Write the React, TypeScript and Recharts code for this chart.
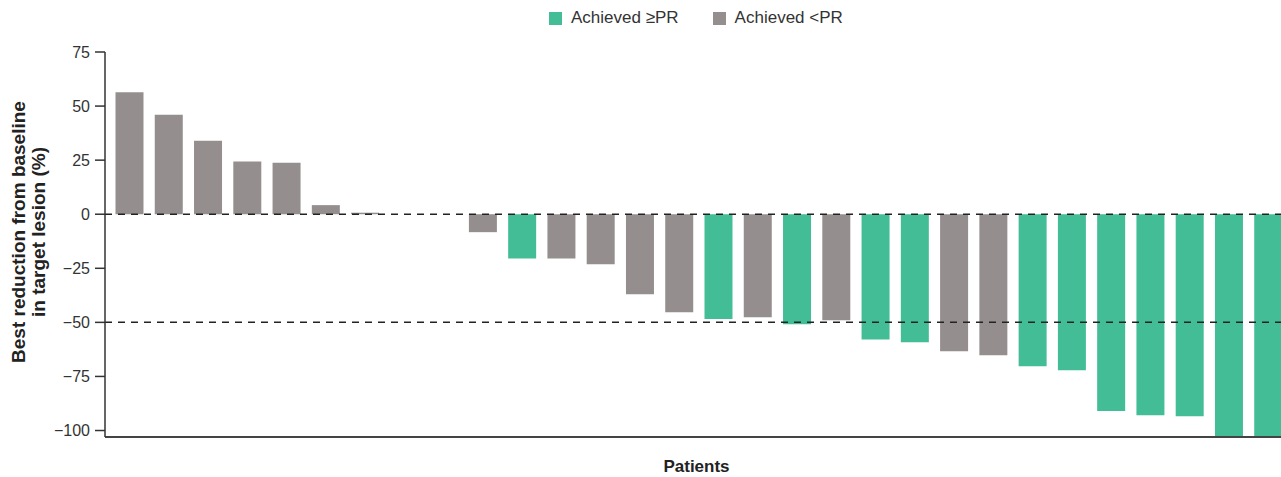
import React from 'react';
import { BarChart, Bar, XAxis, YAxis, ReferenceLine, Cell, Label } from 'recharts';

const patients = Array.from({ length: 30 }, (_, i) => `P${i + 1}`);

const bestChange = [
  56.4, 46, 34, 24.4, 23.8, 4.2, 0.7, 0, 0, -8.3,
  -20.5, -20.5, -23.1, -37, -45.3, -48.5, -47.6, -50.9, -49, -57.9,
  -59.2, -63.3, -65.2, -70.3, -72.1, -91, -92.9, -93.4, -102.6, -103,
];

// true = achieved >= PR
const achievedPR = [
  false, false, false, false, false, false, false, false, false, false,
  true, false, false, false, false, true, false, true, false, true,
  true, false, false, true, true, true, true, true, true, true,
];

const yTicks = [75, 50, 25, 0, -25, -50, -75, -100];
const refLines = [0, -50];

const GREEN = '#43bd96';
const GRAY = '#948f8e';
const FONT = '"Liberation Sans", Arial, Helvetica, sans-serif';

const data = patients.map((p, i) => ({ patient: p, value: bestChange[i], pr: achievedPR[i] }));

const fmtTick = (v: number) => String(v).replace('-', '\u2212');

const YLabel = () => (
  <g>
    <text x={25} y={232} transform="rotate(-90 25 232)" textAnchor="middle" fontFamily={FONT} fontSize={19} fontWeight="bold" fill="#222">
      Best reduction from baseline
    </text>
    <text x={45} y={232} transform="rotate(-90 45 232)" textAnchor="middle" fontFamily={FONT} fontSize={19} fontWeight="bold" fill="#222">
      in target lesion (%)
    </text>
  </g>
);

const XLabel = ({ viewBox }: any) => (
  <text x={viewBox.x + viewBox.width / 2} y={472} textAnchor="middle" fontFamily={FONT} fontSize={17} fontWeight="bold" fill="#222">
    Patients
  </text>
);

const LegendBox = () => (
  <div style={{ position: 'absolute', top: 8, left: 549, display: 'flex', alignItems: 'center', fontFamily: FONT, fontSize: 17, color: '#333' }}>
    <span style={{ width: 13, height: 13, background: GREEN, display: 'inline-block', marginRight: 9 }} />
    <span style={{ marginRight: 34 }}>Achieved ≥PR</span>
    <span style={{ width: 13, height: 13, background: GRAY, display: 'inline-block', marginRight: 9 }} />
    <span>Achieved &lt;PR</span>
  </div>
);

export default function App() {
  return (
    <div style={{ position: 'absolute', left: 0, top: 0, width: 1281, height: 477, overflow: 'hidden', background: '#fff' }}>
      <BarChart
        width={1290}
        height={477}
        data={data}
        margin={{ top: 52, right: 2, left: 0, bottom: 0 }}
        barCategoryGap="14%"
      >
        <XAxis
          dataKey="patient"
          tick={false}
          tickLine={false}
          height={40}
          padding={{ left: 5, right: 0 }}
          axisLine={{ stroke: '#444', strokeWidth: 2 }}
        >
          <Label content={<XLabel />} />
        </XAxis>
        <YAxis
          width={105}
          domain={[-103, 75]}
          ticks={yTicks}
          interval={0}
          allowDataOverflow
          tickFormatter={fmtTick}
          tickSize={10}
          tickMargin={5}
          tick={{ fontSize: 16, fill: '#333', fontFamily: FONT }}
          tickLine={{ stroke: '#333', strokeWidth: 1.5 }}
          axisLine={{ stroke: '#333', strokeWidth: 1.5 }}
        >
          <Label content={<YLabel />} />
        </YAxis>
        <Bar dataKey="value" isAnimationActive={false}>
          {data.map((d) => (
            <Cell key={d.patient} fill={d.pr ? GREEN : GRAY} />
          ))}
        </Bar>
        {refLines.map((y) => (
          <ReferenceLine key={y} y={y} stroke="#222" strokeWidth={1.5} strokeDasharray="7 6" />
        ))}
      </BarChart>
      <LegendBox />
    </div>
  );
}
